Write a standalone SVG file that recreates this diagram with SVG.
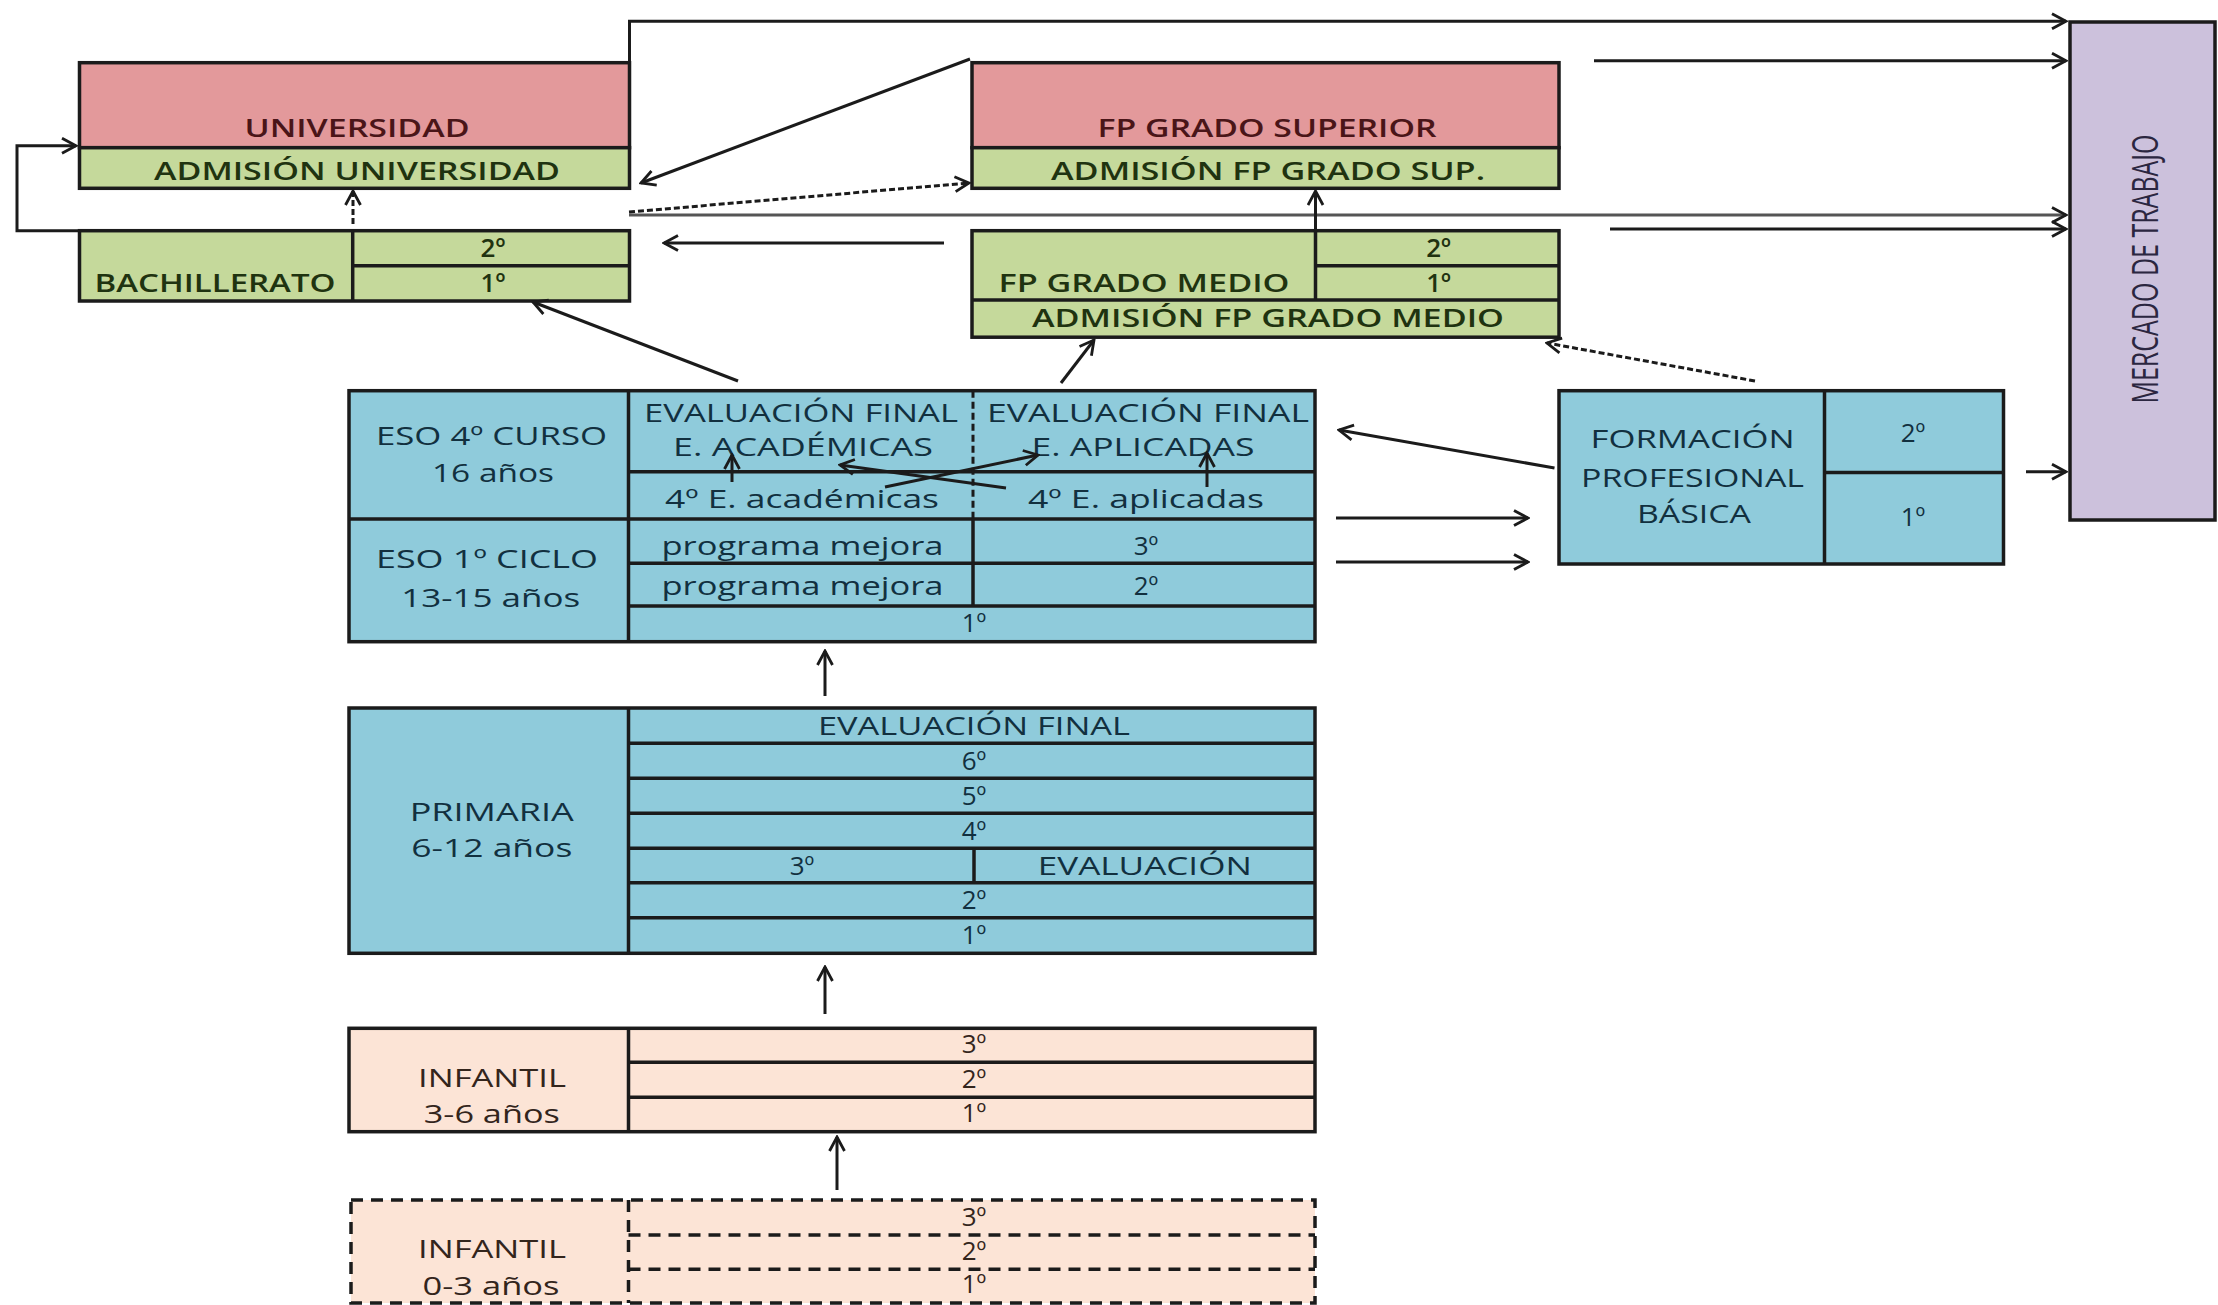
<svg xmlns="http://www.w3.org/2000/svg" width="2218" height="1305" viewBox="0 0 2218 1305">
<style>
.b{stroke:#1b1b1b;stroke-width:3.5}
.d{stroke:#1b1b1b;stroke-width:3;fill:none}
.pk{fill:#E3999B}.gr{fill:#C5D99B}.bl{fill:#8FCBDB}.pc{fill:#FCE4D6}.pu{fill:#CCC1DC}
text{font-family:"Open Sans","Liberation Sans",sans-serif;font-size:26px;text-anchor:middle}
.tp{fill:#4a1518;font-weight:600}.tg{fill:#1f3310;font-weight:600}.tb{fill:#12303f;font-weight:500}.tc{fill:#33251c;font-weight:500}.tu{fill:#2b2640;font-weight:500}
.c{stroke:#1b1b1b;stroke-width:3;fill:none;marker-end:url(#ah)}
.cg{stroke:#555;stroke-width:3;fill:none;marker-end:url(#ah)}
.cd{stroke:#1b1b1b;stroke-width:3;fill:none;stroke-dasharray:6 3;marker-end:url(#ah)}
.dash{stroke-dasharray:12 8}
</style>
<defs>
<marker id="ah" viewBox="0 0 18 18" refX="16" refY="9" markerWidth="18" markerHeight="18" markerUnits="userSpaceOnUse" orient="auto">
<path d="M2,1.5 L16,9 L2,16.5" fill="none" stroke="#1b1b1b" stroke-width="2.8"/>
</marker>
</defs>
<rect width="2218" height="1305" fill="#ffffff"/>

<g id="universidad">
<rect class="pk b" x="79.5" y="62.7" width="550" height="85"/>
<rect class="gr b" x="79.5" y="147.7" width="550" height="40.6"/>
<text class="tp" x="357" y="136.7" textLength="225" lengthAdjust="spacingAndGlyphs">UNIVERSIDAD</text>
<text class="tg" x="357" y="180" textLength="406" lengthAdjust="spacingAndGlyphs">ADMISIÓN UNIVERSIDAD</text>
</g>

<g id="bachillerato">
<rect class="gr b" x="79.5" y="230.7" width="550" height="70.3"/>
<line class="b" x1="352.7" y1="230.7" x2="352.7" y2="301"/>
<line class="b" x1="352.7" y1="265.7" x2="629.5" y2="265.7"/>
<text class="tg" x="215" y="291.7" textLength="241" lengthAdjust="spacingAndGlyphs">BACHILLERATO</text>
<text class="tg" x="493" y="256.7">2º</text>
<text class="tg" x="493" y="291.7">1º</text>
</g>

<g id="fp-superior">
<rect class="pk b" x="972" y="62.7" width="587" height="85"/>
<rect class="gr b" x="972" y="147.7" width="587" height="40.6"/>
<text class="tp" x="1267" y="137.3" textLength="339" lengthAdjust="spacingAndGlyphs">FP GRADO SUPERIOR</text>
<text class="tg" x="1268" y="180" textLength="434" lengthAdjust="spacingAndGlyphs">ADMISIÓN FP GRADO SUP.</text>
</g>

<g id="fp-medio">
<rect class="gr b" x="972" y="230.7" width="587" height="106.5"/>
<line class="b" x1="1315.5" y1="230.7" x2="1315.5" y2="300"/>
<line class="b" x1="1315.5" y1="265.7" x2="1559" y2="265.7"/>
<line class="b" x1="972" y1="300" x2="1559" y2="300"/>
<text class="tg" x="1144" y="291.7" textLength="291" lengthAdjust="spacingAndGlyphs">FP GRADO MEDIO</text>
<text class="tg" x="1438.6" y="256.7">2º</text>
<text class="tg" x="1438.6" y="291.7">1º</text>
<text class="tg" x="1268" y="326.7" textLength="472" lengthAdjust="spacingAndGlyphs">ADMISIÓN FP GRADO MEDIO</text>
</g>

<g id="mercado">
<rect class="pu b" x="2070" y="22" width="145" height="498"/>
<text class="tu" x="2145" y="282" style="font-size:36px" textLength="269" lengthAdjust="spacingAndGlyphs" transform="rotate(-90 2145 269)">MERCADO DE TRABAJO</text>
</g>

<g id="fpb">
<rect class="bl b" x="1559" y="390.7" width="444.5" height="173.3"/>
<line class="b" x1="1824.5" y1="390.7" x2="1824.5" y2="564"/>
<line class="b" x1="1824.5" y1="472.5" x2="2003.5" y2="472.5"/>
<text class="tb" x="1692.6" y="448.3" textLength="204" lengthAdjust="spacingAndGlyphs">FORMACIÓN</text>
<text class="tb" x="1692.5" y="486.5" textLength="223" lengthAdjust="spacingAndGlyphs">PROFESIONAL</text>
<text class="tb" x="1694" y="523" textLength="114" lengthAdjust="spacingAndGlyphs">BÁSICA</text>
<text class="tb" x="1913" y="441.5">2º</text>
<text class="tb" x="1913" y="526">1º</text>
</g>

<g id="eso">
<rect class="bl b" x="349" y="390.7" width="966" height="251"/>
<line class="b" x1="628.5" y1="390.7" x2="628.5" y2="641.7"/>
<line class="b" x1="628.5" y1="471.7" x2="1315" y2="471.7"/>
<line class="b" x1="349" y1="519" x2="1315" y2="519"/>
<line class="b" x1="628.5" y1="563.3" x2="1315" y2="563.3"/>
<line class="b" x1="628.5" y1="606" x2="1315" y2="606"/>
<line class="b" x1="973" y1="519" x2="973" y2="606"/>
<line x1="973" y1="390.7" x2="973" y2="519" stroke="#1b1b1b" stroke-width="3" stroke-dasharray="7 4"/>
<text class="tb" x="491.5" y="445" textLength="231" lengthAdjust="spacingAndGlyphs">ESO 4º CURSO</text>
<text class="tb" x="493" y="481.7" textLength="122" lengthAdjust="spacingAndGlyphs">16 años</text>
<text class="tb" x="801" y="421.7" textLength="314" lengthAdjust="spacingAndGlyphs">EVALUACIÓN FINAL</text>
<text class="tb" x="803" y="456" textLength="260" lengthAdjust="spacingAndGlyphs">E. ACADÉMICAS</text>
<text class="tb" x="1148" y="421.7" textLength="322" lengthAdjust="spacingAndGlyphs">EVALUACIÓN FINAL</text>
<text class="tb" x="1143" y="456" textLength="223" lengthAdjust="spacingAndGlyphs">E. APLICADAS</text>
<text class="tb" x="802" y="508.3" textLength="274" lengthAdjust="spacingAndGlyphs">4º E. académicas</text>
<text class="tb" x="1146" y="508.3" textLength="236" lengthAdjust="spacingAndGlyphs">4º E. aplicadas</text>
<text class="tb" x="487" y="568" textLength="222" lengthAdjust="spacingAndGlyphs">ESO 1º CICLO</text>
<text class="tb" x="490.7" y="606.7" textLength="179" lengthAdjust="spacingAndGlyphs">13-15 años</text>
<text class="tb" x="802.5" y="555" textLength="282" lengthAdjust="spacingAndGlyphs">programa mejora</text>
<text class="tb" x="802.5" y="595" textLength="282" lengthAdjust="spacingAndGlyphs">programa mejora</text>
<text class="tb" x="1146" y="555">3º</text>
<text class="tb" x="1146" y="595">2º</text>
<text class="tb" x="974" y="632">1º</text>
</g>

<g id="primaria">
<rect class="bl b" x="349" y="708" width="966" height="245.3"/>
<line class="b" x1="628.5" y1="708" x2="628.5" y2="953.3"/>
<line class="b" x1="628.5" y1="743.3" x2="1315" y2="743.3"/>
<line class="b" x1="628.5" y1="778.3" x2="1315" y2="778.3"/>
<line class="b" x1="628.5" y1="813.3" x2="1315" y2="813.3"/>
<line class="b" x1="628.5" y1="848.3" x2="1315" y2="848.3"/>
<line class="b" x1="628.5" y1="882.7" x2="1315" y2="882.7"/>
<line class="b" x1="628.5" y1="917.7" x2="1315" y2="917.7"/>
<line class="b" x1="974" y1="848.3" x2="974" y2="882.7"/>
<text class="tb" x="491.7" y="821" textLength="164" lengthAdjust="spacingAndGlyphs">PRIMARIA</text>
<text class="tb" x="491.8" y="856.7" textLength="161" lengthAdjust="spacingAndGlyphs">6-12 años</text>
<text class="tb" x="974" y="735" textLength="312" lengthAdjust="spacingAndGlyphs">EVALUACIÓN FINAL</text>
<text class="tb" x="974" y="770">6º</text>
<text class="tb" x="974" y="805">5º</text>
<text class="tb" x="974" y="840">4º</text>
<text class="tb" x="802" y="875">3º</text>
<text class="tb" x="1144.8" y="875" textLength="214" lengthAdjust="spacingAndGlyphs">EVALUACIÓN</text>
<text class="tb" x="974" y="909">2º</text>
<text class="tb" x="974" y="944">1º</text>
</g>

<g id="infantil-3-6">
<rect class="pc b" x="349" y="1028.3" width="966" height="103.4"/>
<line class="b" x1="628.5" y1="1028.3" x2="628.5" y2="1131.7"/>
<line class="b" x1="628.5" y1="1062.3" x2="1315" y2="1062.3"/>
<line class="b" x1="628.5" y1="1097.3" x2="1315" y2="1097.3"/>
<text class="tc" x="492" y="1086.7" textLength="148" lengthAdjust="spacingAndGlyphs">INFANTIL</text>
<text class="tc" x="491.8" y="1123" textLength="136" lengthAdjust="spacingAndGlyphs">3-6 años</text>
<text class="tc" x="974" y="1053.3">3º</text>
<text class="tc" x="974" y="1088.3">2º</text>
<text class="tc" x="974" y="1121.7">1º</text>
</g>

<g id="infantil-0-3">
<rect class="pc b dash" x="351" y="1200" width="964" height="103"/>
<line class="b dash" x1="628.5" y1="1200" x2="628.5" y2="1303"/>
<line class="b dash" x1="628.5" y1="1235" x2="1315" y2="1235"/>
<line class="b dash" x1="628.5" y1="1269.3" x2="1315" y2="1269.3"/>
<text class="tc" x="492" y="1258.3" textLength="148" lengthAdjust="spacingAndGlyphs">INFANTIL</text>
<text class="tc" x="491" y="1295" textLength="137" lengthAdjust="spacingAndGlyphs">0-3 años</text>
<text class="tc" x="974" y="1226">3º</text>
<text class="tc" x="974" y="1260">2º</text>
<text class="tc" x="974" y="1293.3">1º</text>
</g>

<g id="connectors">
<polyline class="c" points="629.5,62.7 629.5,21.3 2066,21.3"/>
<line class="c" x1="1594" y1="60.7" x2="2066" y2="60.7"/>
<line class="cg" x1="629" y1="215" x2="2066" y2="215"/>
<line class="c" x1="1610" y1="229" x2="2066" y2="229"/>
<line class="c" x1="2026" y1="471.7" x2="2066" y2="471.7"/>
<polyline class="c" points="79.5,230.7 17,230.7 17,145.7 76,145.7"/>
<line class="cd" x1="353" y1="224" x2="353" y2="191"/>
<line class="c" x1="970" y1="59" x2="641" y2="183"/>
<line class="cd" x1="629" y1="212" x2="969" y2="183"/>
<line class="c" x1="944" y1="243" x2="664" y2="243"/>
<line class="c" x1="1315.5" y1="231" x2="1315.5" y2="191"/>
<line class="c" x1="738" y1="381" x2="533" y2="302"/>
<line class="c" x1="1061" y1="383" x2="1094" y2="340"/>
<line class="cd" x1="1755" y1="381" x2="1547" y2="343"/>
<line class="c" x1="1554.5" y1="468" x2="1339" y2="430"/>
<line class="c" x1="1336" y1="518" x2="1528" y2="518"/>
<line class="c" x1="1336" y1="562" x2="1528" y2="562"/>
<line class="c" x1="732" y1="482" x2="732" y2="455"/>
<line class="c" x1="1207" y1="487" x2="1207" y2="453"/>
<line class="c" x1="1006" y1="488" x2="840" y2="465"/>
<line class="c" x1="885" y1="487" x2="1038" y2="455"/>
<line class="c" x1="825" y1="696" x2="825" y2="651"/>
<line class="c" x1="825" y1="1014" x2="825" y2="967"/>
<line class="c" x1="837" y1="1190" x2="837" y2="1137"/>
</g>
</svg>
